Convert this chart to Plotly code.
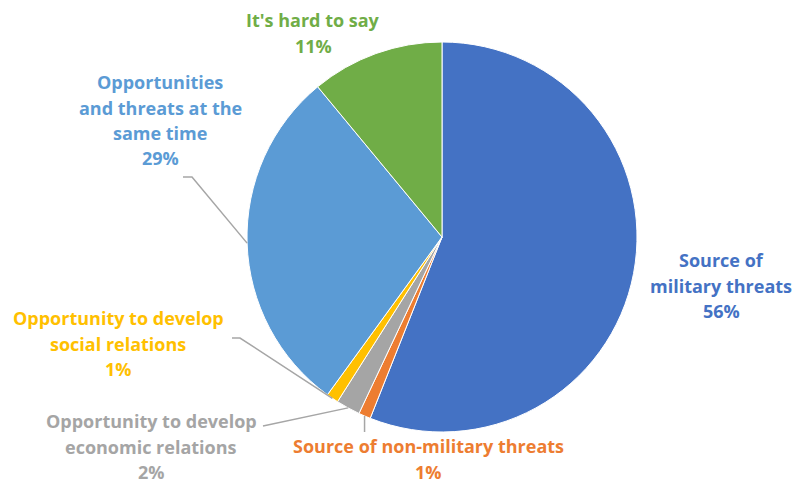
import math
import plotly.graph_objects as go

# ---- data ----
categories = [
    "Source of military threats",
    "Source of non-military threats",
    "Opportunity to develop economic relations",
    "Opportunity to develop social relations",
    "Opportunities and threats at the same time",
    "It's hard to say",
]
values = [56, 1, 2, 1, 29, 11]
label_lines = [
    ["Source of", "military threats"],
    ["Source of non-military threats"],
    ["Opportunity to develop", "economic relations"],
    ["Opportunity to develop", "social relations"],
    ["Opportunities", "and threats at the", "same time"],
    ["It's hard to say"],
]
colors = ["#4472C4", "#ED7D31", "#A5A5A5", "#FFC000", "#5B9BD5", "#70AD47"]

# ---- layout constants (pixels) ----
W, H = 797, 485
CX, CY, R = 442, 237, 195
LINE_H = 25.5
# label block: centre x, first-line y
label_pos = [
    (721, 260),
    (428, 446),
    (151, 421),
    (118, 318),
    (160, 82),
    (313, 20),
]
# leader line elbow points (None = no leader)
leaders = [
    None,
    [(None, 432)],               # vertical, x taken from start
    [(263, 426)],
    [(240, 338), (232, 338)],
    [(192, 177), (183, 177)],
    None,
]
LEADER_COLOR = "#A6A6A6"
FONT = "Open Sans"
FONT_SIZE = 18


def px(x):
    return x / W


def py(y):
    return 1 - y / H


fig = go.Figure(
    go.Pie(
        labels=categories,
        values=values,
        sort=False,
        direction="clockwise",
        rotation=0,
        marker=dict(colors=colors, line=dict(color="white", width=1)),
        textinfo="none",
        hoverinfo="label+percent",
        domain=dict(x=[px(CX - R), px(CX + R)], y=[py(CY + R), py(CY - R)]),
        showlegend=False,
    )
)

total = sum(values)
annotations = []
shapes = []
cum = 0
for i, v in enumerate(values):
    mid = (cum + v / 2) / total * 2 * math.pi
    cum += v
    pct = round(v / total * 100)
    lines = label_lines[i] + [f"{pct}%"]
    cx, y0 = label_pos[i]
    for k, t in enumerate(lines):
        annotations.append(
            dict(
                x=px(cx), y=py(y0 + k * LINE_H), xref="paper", yref="paper",
                text=f"<b>{t}</b>", showarrow=False, xanchor="center", yanchor="middle",
                font=dict(family=FONT, size=FONT_SIZE, color=colors[i]),
                borderpad=0,
            )
        )
    if leaders[i]:
        sx = CX + R * math.sin(mid)
        sy = CY - R * math.cos(mid)
        pts = [(sx, sy)]
        for (ex, ey) in leaders[i]:
            pts.append((sx if ex is None else ex, ey))
        path = "M " + " L ".join(f"{px(a)},{py(b)}" for a, b in pts)
        shapes.append(
            dict(type="path", xref="paper", yref="paper", path=path,
                 line=dict(color=LEADER_COLOR, width=1.5))
        )

fig.update_layout(
    width=W, height=H,
    margin=dict(l=0, r=0, t=0, b=0),
    paper_bgcolor="white",
    plot_bgcolor="white",
    annotations=annotations,
    shapes=shapes,
)

fig.write_html(
    "out.html",
    config={"displayModeBar": False},
    post_script="document.body.style.margin='0';",
)
